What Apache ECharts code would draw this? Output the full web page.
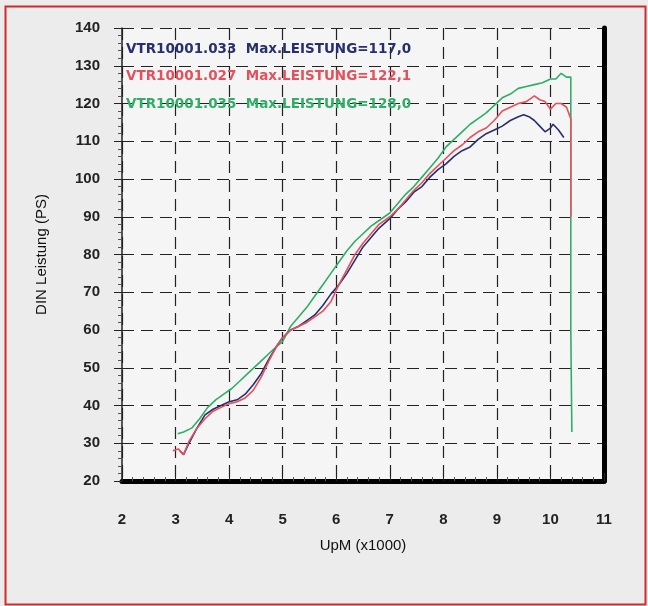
<!DOCTYPE html>
<html style="height: 100%">
<head>
    <meta charset="utf-8">
    <title>DIN Leistung</title>
    <script src="https://cdn.jsdelivr.net/npm/echarts@6/dist/echarts.min.js"></script>
</head>
<body style="height: 100%; margin: 0; background: #ececec">
<div id="main" style="width: 648px; height: 606px"></div>
<script type="text/javascript">
    // Lauf VTR10001.033 (blau)
    var rpm033 = [3.08, 3.15, 3.25, 3.4, 3.55, 3.7, 3.85, 4.0, 4.15, 4.3, 4.45, 4.6, 4.75, 4.9, 5.0, 5.15, 5.3, 5.45,
        5.6, 5.75, 5.9, 6.05, 6.2, 6.35, 6.5, 6.65, 6.8, 7.0, 7.15, 7.3, 7.45, 7.6, 7.75, 7.9, 8.05, 8.2, 8.35, 8.5,
        8.65, 8.8, 8.95, 9.1, 9.25, 9.4, 9.5, 9.6, 9.7, 9.8, 9.9, 10.0, 10.05, 10.15, 10.25];
    var ps033 = [28, 27, 30, 34, 37.5, 39, 40, 41, 41.5, 43, 45.5, 48.5, 52.5, 56, 58, 60, 61, 62.5,
        64, 66.5, 69.5, 72, 75, 78.5, 82, 84.5, 87, 89.5, 92, 94, 96.5, 98, 100.5, 102.5, 104, 106, 107.5, 108.5,
        110.5, 112, 113, 114, 115.5, 116.5, 117, 116.5, 115.5, 114, 112.5, 113.5, 114.5, 113, 111];

    // Lauf VTR10001.027 (rot)
    var rpm027 = [2.95, 3.05, 3.15, 3.25, 3.4, 3.55, 3.7, 3.85, 4.0, 4.15, 4.3, 4.45, 4.6, 4.75, 4.9, 5.0, 5.15, 5.3,
        5.45, 5.6, 5.75, 5.9, 6.05, 6.2, 6.35, 6.5, 6.65, 6.8, 7.0, 7.15, 7.3, 7.45, 7.6, 7.75, 7.9, 8.05, 8.2, 8.35,
        8.5, 8.65, 8.8, 8.95, 9.1, 9.25, 9.4, 9.55, 9.7, 9.8, 9.9, 10.0, 10.1, 10.2, 10.3, 10.38, 10.38];
    var ps027 = [28, 28.5, 27, 30.5, 34, 36.5, 38.5, 39.5, 40.5, 41, 42, 44, 47.5, 52, 56, 58, 60, 61,
        62, 63.5, 65, 67.5, 72, 76, 80, 83, 85.5, 88, 90, 92, 94.5, 97, 99, 101.5, 103.5, 105.5, 107.5, 109,
        111, 112.5, 113.5, 115.5, 118, 119, 120, 120.5, 122, 121, 120.5, 118.5, 120, 120, 119, 116, 90];

    // Lauf VTR10001.035 (gruen)
    var rpm035 = [3.04, 3.15, 3.3, 3.45, 3.6, 3.75, 3.9, 4.05, 4.2, 4.35, 4.5, 4.65, 4.8, 5.0, 5.15, 5.3, 5.45, 5.6,
        5.75, 5.9, 6.05, 6.2, 6.35, 6.5, 6.65, 6.8, 7.0, 7.15, 7.3, 7.45, 7.6, 7.75, 7.9, 8.05, 8.2, 8.35, 8.5, 8.65,
        8.8, 8.95, 9.1, 9.25, 9.4, 9.55, 9.7, 9.85, 10.0, 10.1, 10.2, 10.3, 10.38, 10.38, 10.4];
    var ps035 = [32.5, 33, 34, 36.5, 39.5, 41.5, 43, 44.5, 46.5, 48.5, 50.5, 52.5, 54.5, 57, 61, 63.5, 66, 69,
        72, 75, 78, 81, 83.5, 85.5, 87.5, 89, 91, 93.5, 96, 98, 100.5, 103, 105.5, 108.5, 110.5, 112.5, 114.5, 116,
        117.5, 119.5, 121.5, 122.5, 124, 124.5, 125, 125.5, 126.5, 126.5, 128, 127, 127, 60, 33];

    var legendLines = [
        'VTR10001.033  Max.LEISTUNG=117,0',
        'VTR10001.027  Max.LEISTUNG=122,1',
        'VTR10001.035  Max.LEISTUNG=128,0'
    ];
    var colors = ['#27306e', '#e4505c', '#2fae66'];

    function pairs(xs, ys) {
        var res = [];
        for (var i = 0; i < xs.length; i++) {
            res.push([xs[i], ys[i]]);
        }
        return res;
    }

    var myChart = echarts.init(document.getElementById('main'));
    var dash = {color: '#222', width: 1.2, type: [12, 7]};

    var option = {
        backgroundColor: '#ececec',
        animation: false,
        grid: {
            left: 122, right: 44, top: 28, bottom: 125,
            show: true, backgroundColor: '#f5f5f5', borderWidth: 0
        },
        xAxis: {
            type: 'value', min: 2, max: 11, interval: 1,
            name: 'UpM (x1000)', nameLocation: 'middle', nameGap: 57,
            nameTextStyle: {fontFamily: 'Liberation Sans', fontSize: 15, color: '#111'},
            axisLine: {onZero: false, lineStyle: {color: '#000', width: 5}},
            axisTick: {inside: true, length: 8, lineStyle: {color: '#222'}},
            minorTick: {show: true, splitNumber: 5, length: 4, lineStyle: {color: '#555'}},
            axisLabel: {margin: 31, fontFamily: 'Liberation Sans', fontWeight: 'bold', fontSize: 15, color: '#222'},
            splitLine: {show: true, lineStyle: dash}
        },
        yAxis: [{
            type: 'value', min: 20, max: 140, interval: 10,
            name: 'DIN Leistung (PS)', nameLocation: 'middle', nameGap: 73,
            nameTextStyle: {fontFamily: 'Liberation Sans', fontSize: 15, color: '#111'},
            axisLine: {show: true, lineStyle: {color: '#222', width: 1.5}},
            axisTick: {show: true, length: 8, lineStyle: {color: '#222'}},
            minorTick: {show: true, splitNumber: 5, length: 4, lineStyle: {color: '#555'}},
            axisLabel: {margin: 22, fontFamily: 'Liberation Sans', fontWeight: 'bold', fontSize: 15, color: '#222'},
            splitLine: {show: true, lineStyle: dash}
        }, {
            type: 'value', min: 20, max: 140, interval: 10, position: 'right',
            axisLine: {show: true, lineStyle: {color: '#000', width: 5}},
            axisTick: {show: false}, axisLabel: {show: false}, splitLine: {show: false}
        }],
        series: [{
            name: 'VTR10001.033', type: 'line', data: pairs(rpm033, ps033),
            showSymbol: false, z: 3, lineStyle: {color: colors[0], width: 1.6}
        }, {
            name: 'VTR10001.027', type: 'line', data: pairs(rpm027, ps027),
            showSymbol: false, z: 4, lineStyle: {color: colors[1], width: 1.6}
        }, {
            name: 'VTR10001.035', type: 'line', data: pairs(rpm035, ps035),
            showSymbol: false, z: 2, lineStyle: {color: colors[2], width: 1.6}
        }],
        graphic: [{
            type: 'rect', left: 3, top: 4, silent: true,
            shape: {width: 640, height: 598},
            style: {fill: 'none', stroke: '#d42a2a', lineWidth: 2}
        }].concat(legendLines.map(function (t, i) {
            return {
                type: 'text', left: 126, top: 42 + i * 27.5, z: 10,
                style: {text: t, fill: colors[i], font: 'bold 13.5px "DejaVu Sans"'}
            };
        }))
    };
    myChart.setOption(option);
</script>
</body>
</html>
